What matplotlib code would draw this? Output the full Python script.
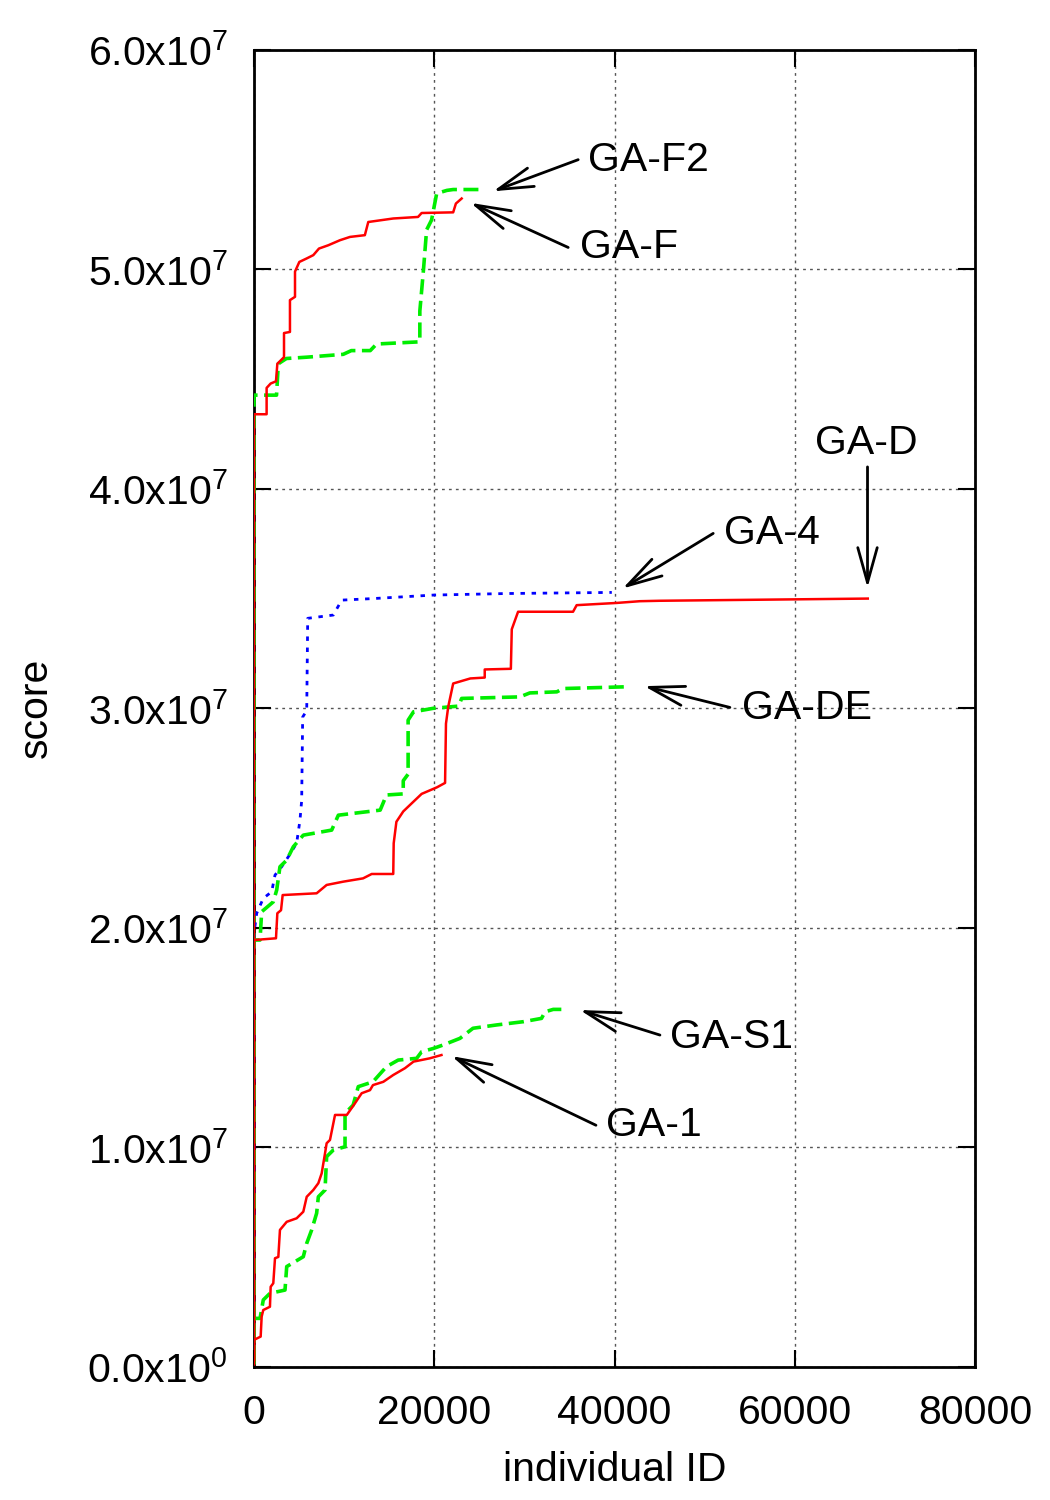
import numpy as np
import matplotlib.pyplot as plt
from matplotlib.ticker import FuncFormatter

plt.rcParams['font.family'] = ['Liberation Sans', 'DejaVu Sans']
plt.rcParams['mathtext.default'] = 'regular'

# x values are in thousands of individuals, y values in millions
gaf_x = [0, 0, 1.4, 1.4, 1.85, 1.85, 2.44, 2.59, 3.33, 3.33, 3.99, 3.99, 4.55, 4.55, 5.03, 5.85,
         6.58, 7.21, 8.24, 9.54, 10.65, 12.3, 12.68, 15.45, 18.2, 18.6, 22.1, 22.4, 23.04]
gaf_y = [0.3, 43.4, 43.4, 44.6, 44.8, 44.8, 44.9, 45.7, 46.0, 47.1, 47.15, 48.6, 48.75, 49.9,
         50.34, 50.5, 50.65, 50.95, 51.1, 51.33, 51.48, 51.56, 52.16, 52.32, 52.39, 52.57,
         52.6, 53.0, 53.23]

gaf2_x = [0, 0, 2.5, 2.7, 3.6, 5.85, 9.9, 10.8, 12.9, 13.6, 18.4, 18.4, 18.8, 19.15, 19.7,
          20.27, 21.4, 22.1, 24.9]
gaf2_y = [0.3, 44.27, 44.27, 45.7, 45.94, 46.0, 46.13, 46.3, 46.3, 46.6, 46.7, 48.1, 49.96,
          51.8, 52.25, 53.46, 53.6, 53.64, 53.64]

ga4_x = [0, 0, 0.3, 1.03, 1.96, 2.33, 3.07, 3.8, 4.73, 5.1, 5.29, 5.4, 5.85, 5.96, 8.8, 9.73,
         13.2, 19.9, 28.0, 39.7]
ga4_y = [0.3, 19.74, 20.66, 21.34, 21.64, 22.4, 22.78, 23.23, 23.85, 24.9, 25.8, 29.6, 29.9,
         34.1, 34.25, 34.93, 35.0, 35.16, 35.23, 35.28]

gad_x = [0, 0, 2.44, 2.59, 3.0, 3.18, 6.95, 8.06, 9.9, 12.1, 13.06, 15.45, 15.5, 15.8, 16.56,
         17.5, 18.6, 20.3, 21.2, 21.3, 21.55, 22.1, 24.0, 25.6, 25.6, 28.5, 28.6, 29.3, 35.4,
         35.8, 40.2, 42.8, 45.0, 68.1]
gad_y = [0.3, 19.44, 19.52, 20.66, 20.8, 21.49, 21.57, 21.95, 22.1, 22.25, 22.45, 22.45,
         23.85, 24.83, 25.3, 25.67, 26.1, 26.4, 26.6, 29.3, 30.07, 31.13, 31.36, 31.4, 31.77,
         31.8, 33.6, 34.4, 34.4, 34.7, 34.8, 34.88, 34.9, 35.0]

gade_x = [0, 0, 0.67, 0.85, 2.14, 2.52, 2.88, 3.63, 4.36, 5.47, 8.62, 9.36, 14.0, 14.7, 16.56,
          16.56, 17.1, 17.1, 17.7, 19.9, 22.7, 23.04, 29.5, 30.6, 33.6, 34.3, 41.3]
gade_y = [0.3, 19.44, 19.44, 20.73, 21.18, 21.72, 22.78, 23.08, 23.69, 24.22, 24.45, 25.13,
          25.36, 26.05, 26.1, 26.7, 27.0, 29.46, 29.84, 30.0, 30.1, 30.45, 30.52, 30.7, 30.75,
          30.9, 30.98]

ga1_x = [0, 0, 0.74, 0.85, 1.03, 1.77, 1.85, 2.14, 2.33, 2.7, 2.88, 3.63, 4.73, 5.47, 5.85,
         6.58, 7.14, 7.51, 7.88, 8.06, 8.43, 8.99, 10.3, 11.2, 11.95, 12.87, 13.2, 14.35,
         15.45, 16.75, 17.7, 19.5, 20.8]
ga1_y = [0.1, 1.22, 1.37, 2.28, 2.58, 2.73, 3.64, 3.8, 4.94, 5.0, 6.23, 6.6, 6.76, 7.06, 7.74,
         8.05, 8.36, 8.81, 9.72, 10.18, 10.33, 11.47, 11.47, 12.0, 12.46, 12.6, 12.83, 12.98,
         13.29, 13.6, 13.9, 14.05, 14.2]

gas1_x = [0, 0, 0.67, 1.03, 1.77, 3.44, 3.63, 5.47, 5.85, 6.4, 6.95, 7.14, 7.88, 8.06, 8.8,
          10.1, 10.1, 11.0, 11.57, 13.2, 14.7, 16.0, 18.05, 18.6, 19.9, 21.0, 22.85, 24.3,
          26.9, 29.9, 31.9, 32.3, 33.2, 34.1]
gas1_y = [0.1, 2.2, 2.2, 3.04, 3.34, 3.49, 4.56, 5.01, 5.62, 6.23, 6.99, 7.74, 8.05, 9.57,
          9.87, 10.02, 11.54, 11.92, 12.76, 12.98, 13.67, 13.97, 14.05, 14.35, 14.5, 14.66,
          14.96, 15.42, 15.57, 15.72, 15.87, 16.17, 16.28, 16.28]

# label text position, arrow tail, arrow head (thousands, millions)
labels = ['GA-F2', 'GA-F', 'GA-D', 'GA-4', 'GA-DE', 'GA-S1', 'GA-1']
label_xy = [(37.05, 54.97), (36.16, 51.0), (67.9, 42.08), (52.1, 37.98), (54.13, 30.0),
            (46.15, 15.02), (39.05, 11.0)]
tail_xy = [(35.97, 55.0), (34.86, 51.0), (68.07, 41.0), (50.95, 37.97), (52.8, 30.04),
           (45.04, 15.11), (37.94, 11.0)]
head_xy = [(26.54, 53.56), (24.04, 53.03), (68.07, 35.49), (40.9, 35.46), (43.3, 31.01),
           (36.16, 16.25), (21.93, 14.15)]

red = '#ff0000'
green = '#00ee00'
blue = '#0000ff'

fig = plt.figure(figsize=(10.5, 15), dpi=100)
ax = fig.add_axes([0.2419, 0.0889, 0.6867, 0.8778])


def k(v):
    return np.array(v) * 1e3


def m(v):
    return np.array(v) * 1e6


green_dash = (4.2, 1.8)
ax.plot(k(gaf2_x), m(gaf2_y), color=green, lw=2.6, dashes=green_dash, zorder=3)
ax.plot(k(gaf_x), m(gaf_y), color=red, lw=1.8, zorder=4)
ax.plot(k(ga4_x), m(ga4_y), color=blue, lw=2.0, dashes=(1.6, 2.4), zorder=3)
ax.plot(k(gade_x), m(gade_y), color=green, lw=2.6, dashes=green_dash, zorder=3)
ax.plot(k(gad_x), m(gad_y), color=red, lw=1.8, zorder=4)
ax.plot(k(gas1_x), m(gas1_y), color=green, lw=2.6, dashes=green_dash, zorder=3)
ax.plot(k(ga1_x), m(ga1_y), color=red, lw=1.8, zorder=4)

fs = 29.5
for lab, (tx, ty), (ax0, ay0), (hx, hy) in zip(labels, label_xy, tail_xy, head_xy):
    if lab == 'GA-D':
        ax.text(tx * 1e3, ty * 1e6, lab, fontsize=fs, ha='center', va='center')
    else:
        ax.text(tx * 1e3, ty * 1e6, lab, fontsize=fs, ha='left', va='center')
    ax.annotate('', xy=(hx * 1e3, hy * 1e6), xytext=(ax0 * 1e3, ay0 * 1e6),
                arrowprops=dict(arrowstyle='->,head_length=0.9,head_width=0.25', lw=2,
                                color='black', shrinkA=0, shrinkB=0, mutation_scale=28))

ax.set_xlim(0, 80000)
ax.set_ylim(0, 6e7)
ax.set_xticks([0, 20000, 40000, 60000, 80000])
ax.set_yticks(np.arange(0, 6.01e7, 1e7))


def sci(v, pos):
    if v == 0:
        return r'$0.0x10^{0}$'
    e = int(np.floor(np.log10(v)))
    return r'$%.1fx10^{%d}$' % (v / 10 ** e, e)


ax.yaxis.set_major_formatter(FuncFormatter(sci))
ax.tick_params(direction='in', length=12, width=1.5, labelsize=fs,
               top=True, right=True)
ax.tick_params(axis='y', pad=19)
ax.tick_params(axis='x', pad=20)
ax.grid(True, linestyle=(0, (2, 3)), color='#555555', lw=1)
for s in ax.spines.values():
    s.set_linewidth(2)

ax.set_xlabel('individual ID', fontsize=fs)
ax.set_ylabel('score', fontsize=fs)
ax.xaxis.set_label_coords(0.5, -0.0785)
ax.xaxis.label.set_va('center')
ax.yaxis.set_label_coords(-0.302, 0.5)
ax.yaxis.label.set_va('center')

fig.savefig('out.png', dpi=100)
